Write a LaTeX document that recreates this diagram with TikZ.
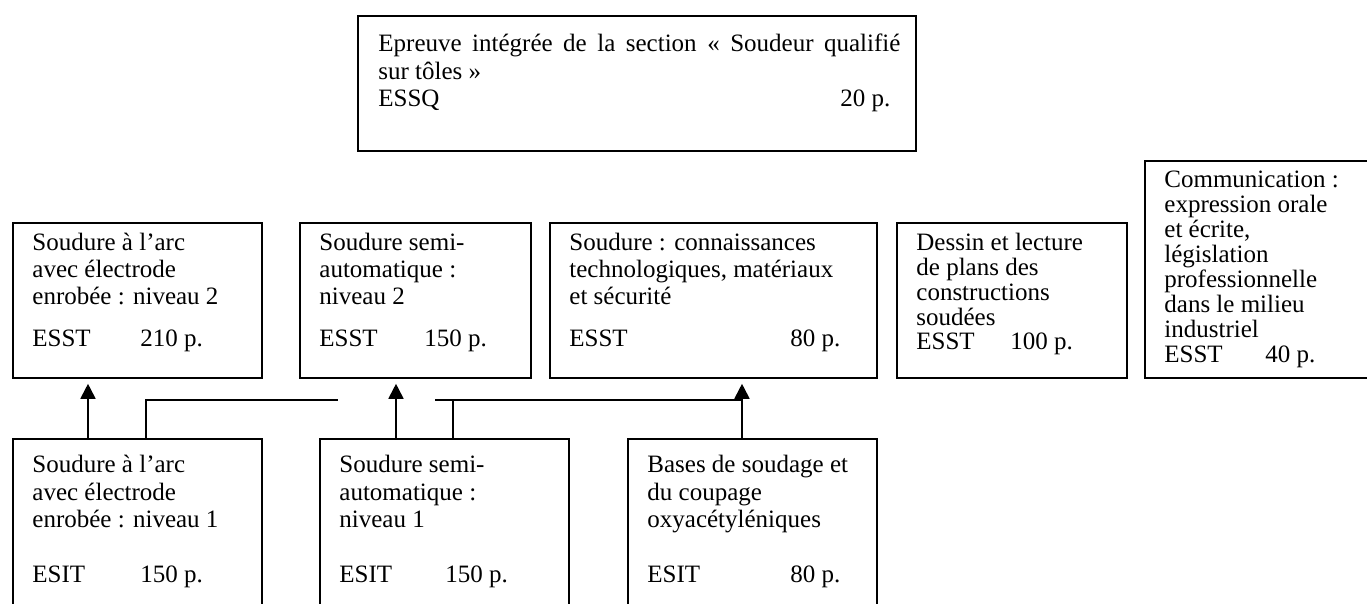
\documentclass[tikz,border=0pt]{standalone}
\usepackage{fontspec}
\setmainfont{Liberation Serif}
\usetikzlibrary{arrows.meta,calc}
\newcommand\boxtext[2]{\parbox[t]{300pt}{\fontsize{12.5}{#1}\selectfont\raggedright #2}}
\begin{document}
\begin{tikzpicture}[x=0.5pt,y=-0.5pt,
  box/.style={draw,line width=0.9pt,anchor=north west,inner sep=0pt},
  txt/.style={anchor=base west,inner sep=0pt},
  arrowline/.style={line width=0.9pt,-{Triangle[length=7.5pt,width=7.5pt]},shorten >=2.5pt},
  link/.style={line width=0.7pt}]
\useasboundingbox (0,0) rectangle (1367,604);
\clip (0,0) rectangle (1367,604);
% top box
\node[box,minimum width=279pt,minimum height=67.5pt] (top) at (357,15) {};
\node[txt] (toptxt) at (378,52) {\boxtext{13.75pt}{\makebox[261pt][s]{Epreuve intégrée de la section « Soudeur qualifié}\\sur tôles »\\\makebox[231pt][l]{ESSQ}20 p.}};
% row 1
\node[box,minimum width=124.5pt,minimum height=77.5pt] (r1) at (12,222) {};
\node[box,minimum width=115.5pt,minimum height=77.5pt] (r2) at (299,222) {};
\node[box,minimum width=163.5pt,minimum height=77.5pt] (r3) at (549,222) {};
\node[box,minimum width=115pt,minimum height=77.5pt] (r4) at (896,222) {};
\node[box,minimum width=150pt,minimum height=108.5pt] (r5) at (1144,160) {};
\node[txt] (r1t) at (32,251) {\boxtext{13.5pt}{Soudure à l’arc\\avec électrode\\enrobée : niveau 2\\[7.5pt]\makebox[54pt][l]{ESST}210 p.}};
\node[txt] (r2t) at (319,251) {\boxtext{13.5pt}{Soudure semi-\\automatique :\\niveau 2\\[7.5pt]\makebox[52.5pt][l]{ESST}150 p.}};
\node[txt] (r3t) at (569,251) {\boxtext{13.5pt}{Soudure : connaissances\\technologiques, matériaux\\et sécurité\\[7.5pt]\makebox[110.5pt][l]{ESST}80 p.}};
\node[txt] (r4t) at (916,251) {\boxtext{12.5pt}{Dessin et lecture\\de plans des\\constructions\\soudées\\[-0.5pt]\makebox[47pt][l]{ESST}100 p.}};
\node[txt] (r5t) at (1164,188) {\boxtext{12.5pt}{Communication :\\expression orale\\et écrite,\\législation\\professionnelle\\dans le milieu\\industriel\\\makebox[50.5pt][l]{ESST}40 p.}};
% bottom row
\node[box,minimum width=124.5pt,minimum height=110pt] (bA) at (12,438) {};
\node[box,minimum width=124.5pt,minimum height=110pt] (bB) at (319,438) {};
\node[box,minimum width=124.5pt,minimum height=110pt] (bC) at (627,438) {};
\node[txt] (bAt) at (32,473) {\boxtext{13.75pt}{Soudure à l’arc\\avec électrode\\enrobée : niveau 1\\\mbox{}\\\makebox[54pt][l]{ESIT}150 p.}};
\node[txt] (bBt) at (339,473) {\boxtext{13.75pt}{Soudure semi-\\automatique :\\niveau 1\\\mbox{}\\\makebox[53pt][l]{ESIT}150 p.}};
\node[txt] (bCt) at (647,473) {\boxtext{13.75pt}{Bases de soudage et\\du coupage\\oxyacétyléniques\\\mbox{}\\\makebox[71.5pt][l]{ESIT}80 p.}};
% connectors
\coordinate (jA) at (146,400);
\coordinate (jAend) at (338,400);
\coordinate (jB) at (453,400);
\coordinate (jBstart) at (435,400);
\draw[arrowline] ($(bA.north west)+(76,0)$) -- ($(r1.south west)+(76,0)$);
\draw[arrowline] ($(bB.north west)+(77,0)$) -- ($(r2.south west)+(97,0)$);
\draw[arrowline] ($(bC.north west)+(115,0)$) -- ($(r3.south west)+(193,0)$);
\draw[link] ($(bA.north west)+(134,0)$) -- (jA) -- (jAend);
\draw[link] ($(bB.north west)+(134,0)$) -- (jB);
\draw[link] (jBstart) -- ($(bC.north west)+(115,-38)$);
\end{tikzpicture}
\end{document}
